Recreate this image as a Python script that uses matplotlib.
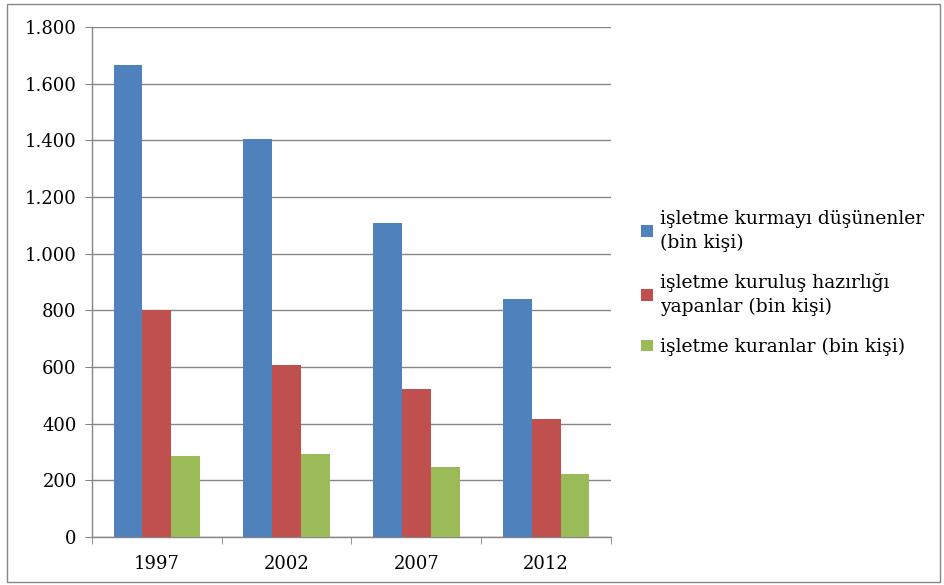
import numpy as np
import matplotlib
matplotlib.use("Agg")
import matplotlib.pyplot as plt
from matplotlib.patches import Rectangle

years = ["1997", "2002", "2007", "2012"]
dusunenler = [1665, 1403, 1107, 839]
hazirlik = [800, 606, 524, 418]
kuranlar = [286, 292, 247, 224]

labels = [
    "işletme kurmayı düşünenler\n(bin kişi)",
    "işletme kuruluş hazırlığı\nyapanlar (bin kişi)",
    "işletme kuranlar (bin kişi)",
]
colors = ["#4f81bd", "#c0504d", "#9bbb59"]
y_ticks = [0, 200, 400, 600, 800, 1000, 1200, 1400, 1600, 1800]
y_tick_labels = ["0", "200", "400", "600", "800", "1.000", "1.200", "1.400", "1.600", "1.800"]

plt.rcParams["font.family"] = ["DejaVu Serif"]

fig = plt.figure(figsize=(9.45, 5.85), dpi=100)
ax = fig.add_axes([92 / 945, 1 - 537 / 585, (611 - 92) / 945, (537 - 27) / 585])

x = np.arange(len(years))
w = 1 / 4.5
for i, (vals, c, lab) in enumerate(zip([dusunenler, hazirlik, kuranlar], colors, labels)):
    ax.bar(x + (i - 1) * w, vals, width=w, color=c, label=lab, zorder=3)

ax.set_xlim(-0.5, len(years) - 0.5)
ax.set_ylim(0, 1800)
ax.set_yticks(y_ticks)
ax.set_yticklabels(y_tick_labels, fontsize=13)
ax.set_xticks(x)
ax.set_xticklabels(years, fontsize=13)
ax.set_xticks(np.arange(len(years) + 1) - 0.5, minor=True)
ax.tick_params(axis="x", which="major", length=0, pad=13)
ax.tick_params(axis="x", which="minor", length=5, color="#868686", direction="out")
ax.tick_params(axis="y", length=5, color="#868686", pad=6)
ax.yaxis.grid(True, color="#868686", linewidth=1, zorder=0)

for side in ["top", "right"]:
    ax.spines[side].set_visible(False)
for side in ["left", "bottom"]:
    ax.spines[side].set_color("#868686")
    ax.spines[side].set_linewidth(1)

leg = ax.legend(loc="center left", bbox_to_anchor=(634 / 945, 1 - 283 / 585), bbox_transform=fig.transFigure,
                frameon=False, fontsize=13.5, handlelength=0.6, handleheight=0.6, handletextpad=0.4,
                labelspacing=1.15, borderaxespad=0)
for t in leg.get_texts():
    t.set_linespacing(1.4)

fig.patches.append(Rectangle((7 / 945, 3 / 585), 933 / 945, 578 / 585, transform=fig.transFigure,
                             fill=False, edgecolor="#868686", linewidth=1))

fig.savefig("out.png", dpi=100)
